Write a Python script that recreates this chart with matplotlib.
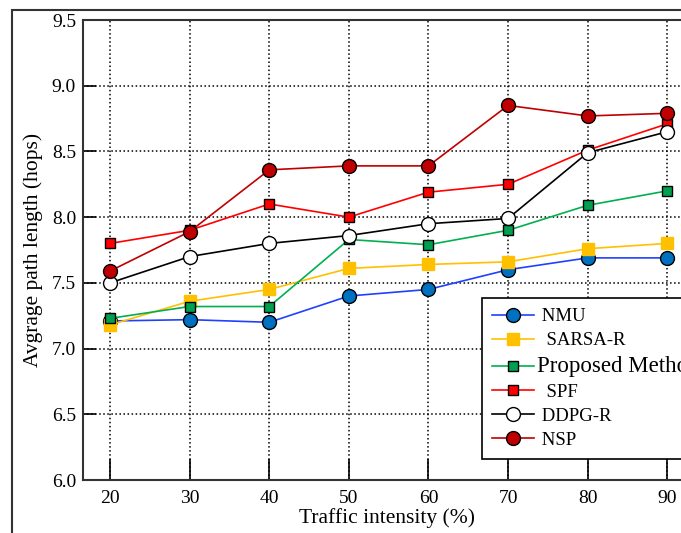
import matplotlib.pyplot as plt
from matplotlib.patches import Rectangle

plt.rcParams['font.family'] = ['Liberation Serif', 'DejaVu Serif']

traffic = [20, 30, 40, 50, 60, 70, 80, 90]
nmu = [7.21, 7.22, 7.20, 7.40, 7.45, 7.60, 7.69, 7.69]
sarsa = [7.18, 7.36, 7.45, 7.61, 7.64, 7.66, 7.76, 7.80]
proposed = [7.23, 7.32, 7.32, 7.83, 7.79, 7.90, 8.09, 8.20]
spf = [7.80, 7.90, 8.10, 8.00, 8.19, 8.25, 8.51, 8.71]
ddpg = [7.50, 7.70, 7.80, 7.86, 7.95, 7.99, 8.49, 8.65]
nsp = [7.59, 7.89, 8.36, 8.39, 8.39, 8.85, 8.77, 8.79]

fig = plt.figure(figsize=(6.81, 5.33), dpi=100)
# outer frame of the copied figure
fig.patches.append(Rectangle((12 / 681, -0.05), 1.0, 1 - 10 / 533 + 0.05,
                             transform=fig.transFigure, fill=False,
                             edgecolor='#333333', linewidth=1.5))
ax = fig.add_axes([83 / 681, 53 / 533, 0.893, 460 / 533])

ax.plot(traffic, nmu, '-o', color='#2040ff', mfc='#0070c0', mec='black',
        ms=10, lw=1.2, label=' NMU')
ax.plot(traffic, sarsa, '-s', color='#ffc000', mfc='#ffc000', mec='#ffc000',
        ms=8, lw=1.2, label='  SARSA-R')
ax.plot(traffic, proposed, '-s', color='#00b050', mfc='#00a050', mec='black',
        ms=7, lw=1.2, label='Proposed Method')
ax.plot(traffic, spf, '-s', color='#ff0000', mfc='#ff0000', mec='black',
        ms=7, lw=1.2, label='  SPF')
ax.plot(traffic, ddpg, '-o', color='black', mfc='white', mec='black',
        ms=10, lw=1.2, label=' DDPG-R')
ax.plot(traffic, nsp, '-o', color='#c00000', mfc='#c00000', mec='black',
        ms=10, lw=1.2, label=' NSP')

ax.set_xlim(16.6, 93)
ax.set_ylim(6.0, 9.5)
ax.set_xticks(traffic)
ax.set_yticks([6.0, 6.5, 7.0, 7.5, 8.0, 8.5, 9.0, 9.5])
ax.set_yticklabels(['6.0', '6.5', '7.0', '7.5', '8.0', '8.5', '9.0', '9.5'])
ax.grid(True, color='black', linestyle=':', linewidth=1.1)
ax.tick_params(axis='x', direction='in', length=15, width=1.2, labelsize=14, pad=7)
ax.tick_params(axis='y', direction='in', length=9, width=1.2, labelsize=14, pad=5)
for s in ax.spines.values():
    s.set_linewidth(1.5)
    s.set_color('#333333')

ax.set_xlabel('Traffic intensity (%)', fontsize=15.5, labelpad=1)
ax.set_ylabel('Avgrage path length (hops)', fontsize=15.5, labelpad=6)

leg = ax.legend(loc='upper left', bbox_to_anchor=(399 / 608, 182 / 460),
                fontsize=13.5, frameon=True, fancybox=False, edgecolor='black',
                framealpha=1, handlelength=2.2, handletextpad=0.2,
                borderaxespad=0, borderpad=0.55, labelspacing=0.36)
leg.get_frame().set_linewidth(1.2)
leg.get_texts()[2].set_fontsize(16.5)

fig.savefig('out.png', dpi=100)
